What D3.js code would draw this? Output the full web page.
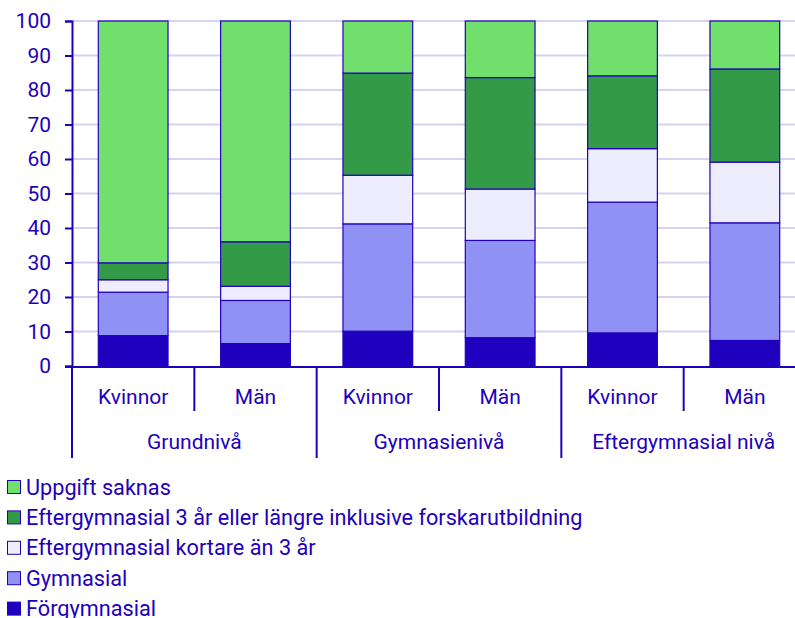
<!DOCTYPE html>
<html>
<head>
<meta charset="utf-8">
<script src="https://cdn.jsdelivr.net/npm/d3@7"></script>
<style>
  body { margin: 0; background: #fff; }
  text { font-family: Roboto, sans-serif; font-size: 21px; fill: #2200bb; }
  .legend text { font-size: 21.7px; }
</style>
</head>
<body>
<div id="chart"></div>
<script>
const groups = ["Grundnivå", "Gymnasienivå", "Eftergymnasial nivå"];
const sexes = ["Kvinnor", "Män"];
const seriesNames = [
  "Förgymnasial",
  "Gymnasial",
  "Eftergymnasial kortare än 3 år",
  "Eftergymnasial 3 år eller längre inklusive forskarutbildning",
  "Uppgift saknas"
];
const forgymnasial = [8.8, 6.5, 10.1, 8.2, 9.6, 7.4];
const gymnasial = [12.6, 12.5, 31.1, 28.2, 37.9, 34.1];
const kortare = [3.6, 4.1, 14.1, 14.9, 15.5, 17.6];
const langre = [4.9, 12.9, 29.6, 32.3, 21.1, 27.0];
const saknas = [70.1, 64.0, 15.1, 16.4, 15.9, 13.9];
const yTicks = [0, 10, 20, 30, 40, 50, 60, 70, 80, 90, 100];
const colors = ["#2000bf", "#8f92f4", "#ededfd", "#339b48", "#70df6c"];

const ink = "#2200bb";
const W = 795, H = 618;
const mLeft = 72, mRight = 806, mTop = 21, mBottom = 366;

// one row per bar
const rows = [];
groups.forEach((g, gi) => sexes.forEach((s, si) => {
  const i = gi * sexes.length + si;
  rows.push({
    key: i, group: g, sex: s,
    [seriesNames[0]]: forgymnasial[i],
    [seriesNames[1]]: gymnasial[i],
    [seriesNames[2]]: kortare[i],
    [seriesNames[3]]: langre[i],
    [seriesNames[4]]: saknas[i]
  });
}));

const stacked = d3.stack().keys(seriesNames)(rows);

const x = d3.scaleBand()
  .domain(rows.map(d => d.key))
  .range([mLeft, mRight])
  .paddingInner(0.43)
  .paddingOuter(0.215);
const y = d3.scaleLinear().domain([0, 100]).range([mBottom, mTop]);
const color = d3.scaleOrdinal().domain(seriesNames).range(colors);

const svg = d3.select("#chart").append("svg")
  .attr("width", W).attr("height", H);

// gridlines
svg.append("g")
  .selectAll("line")
  .data(yTicks.filter(t => t > 0))
  .join("line")
  .attr("x1", mLeft).attr("x2", mRight)
  .attr("y1", d => y(d)).attr("y2", d => y(d))
  .attr("stroke", "#d4d4f2").attr("stroke-width", 2);

// bars
svg.append("g")
  .selectAll("g")
  .data(stacked)
  .join("g")
  .attr("fill", d => color(d.key))
  .selectAll("rect")
  .data(d => d)
  .join("rect")
  .attr("x", d => x(d.data.key))
  .attr("width", x.bandwidth())
  .attr("y", d => y(d[1]))
  .attr("height", d => y(d[0]) - y(d[1]))
  .attr("stroke", ink).attr("stroke-width", 1.2);

// y axis
const yAxis = svg.append("g")
  .attr("transform", `translate(${mLeft},0)`)
  .call(d3.axisLeft(y).tickValues(yTicks).tickSize(7).tickPadding(14));
yAxis.select(".domain").attr("stroke", ink).attr("stroke-width", 2);
yAxis.selectAll(".tick line").attr("stroke", ink).attr("stroke-width", 2);
yAxis.selectAll(".tick text")
  .style("font-family", "Roboto, sans-serif").style("font-size", "21px")
  .attr("fill", ink);

// x baseline
svg.append("line")
  .attr("x1", mLeft - 7).attr("x2", mRight)
  .attr("y1", mBottom + 1).attr("y2", mBottom + 1)
  .attr("stroke", ink).attr("stroke-width", 2);

// category dividers
const step = x.step();
const edge = i => mLeft + i * step;
const xg = svg.append("g");
xg.selectAll("line.inner")
  .data(d3.range(1, rows.length).filter(i => i % sexes.length !== 0))
  .join("line")
  .attr("class", "inner")
  .attr("x1", edge).attr("x2", edge)
  .attr("y1", mBottom).attr("y2", mBottom + 45)
  .attr("stroke", ink).attr("stroke-width", 2);
xg.selectAll("line.outer")
  .data(d3.range(0, rows.length + 1, sexes.length))
  .join("line")
  .attr("class", "outer")
  .attr("x1", edge).attr("x2", edge)
  .attr("y1", mBottom).attr("y2", H - 160)
  .attr("stroke", ink).attr("stroke-width", 2);

xg.selectAll("text.sex")
  .data(rows)
  .join("text")
  .attr("class", "sex")
  .attr("x", d => x(d.key) + x.bandwidth() / 2)
  .attr("y", 404)
  .attr("text-anchor", "middle")
  .text(d => d.sex);

xg.selectAll("text.group")
  .data(groups)
  .join("text")
  .attr("class", "group")
  .attr("x", (d, i) => edge(i * sexes.length) + step * sexes.length / 2)
  .attr("y", 449)
  .attr("text-anchor", "middle")
  .text(d => d);

// legend
const legend = svg.append("g")
  .attr("class", "legend")
  .selectAll("g")
  .data(seriesNames.slice().reverse())
  .join("g")
  .attr("transform", (d, i) => `translate(0, ${480 + i * 30.4})`);
legend.append("rect")
  .attr("x", 7.5).attr("y", 0.5)
  .attr("width", 13).attr("height", 13)
  .attr("fill", d => color(d))
  .attr("stroke", ink).attr("stroke-width", 1);
legend.append("text")
  .attr("x", 26).attr("y", 14.5)
  .text(d => d);
</script>
</body>
</html>
